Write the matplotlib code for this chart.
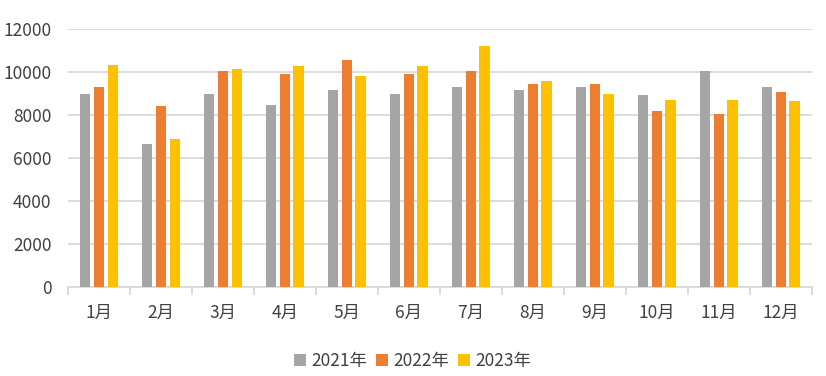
import numpy as np
import matplotlib
matplotlib.use("Agg")
import matplotlib.pyplot as plt

plt.rcParams['font.family'] = ['Noto Sans CJK SC', 'DejaVu Sans']

months = ["1月", "2月", "3月", "4月", "5月", "6月", "7月", "8月", "9月", "10月", "11月", "12月"]
series_names = ["2021年", "2022年", "2023年"]
v2021 = [9000, 6650, 9000, 8480, 9150, 9000, 9290, 9150, 9290, 8930, 10040, 9290]
v2022 = [9290, 8410, 10040, 9900, 10560, 9900, 10040, 9460, 9460, 8190, 8040, 9090]
v2023 = [10340, 6880, 10130, 10270, 9820, 10270, 11230, 9600, 9000, 8720, 8720, 8640]
colors = ["#a5a5a5", "#ed7d31", "#ffc000"]

fig = plt.figure(figsize=(8.26, 3.76), dpi=100)
ax = fig.add_axes([0.0823, 0.236, 0.9007, 0.687])

x = np.arange(len(months))
w = 0.175
step = 0.225
for i, (vals, name) in enumerate(zip([v2021, v2022, v2023], series_names)):
    ax.bar(x + (i - 1) * step, vals, width=w, color=colors[i], label=name, zorder=3)

ax.set_xlim(-0.5, len(months) - 0.5)
ax.set_ylim(0, 12000)
ax.set_yticks(np.arange(0, 12001, 2000))
ax.grid(axis='y', color='#d9d9d9', linewidth=1.3, zorder=0)
for s in ['top', 'right', 'left']:
    ax.spines[s].set_visible(False)
ax.spines['bottom'].set_color('#d9d9d9')
ax.spines['bottom'].set_linewidth(1.3)

ax.set_xticks(x)
ax.set_xticklabels(months)
ax.set_xticks(np.arange(-0.5, len(months)), minor=True)
ax.tick_params(axis='x', which='major', length=0, pad=12, labelsize=12.5, labelcolor='#404040')
ax.tick_params(axis='x', which='minor', length=6, width=1.3, color='#d9d9d9')
ax.tick_params(axis='y', length=0, pad=12, labelsize=12.5, labelcolor='#404040')

ax.legend(loc='upper center', bbox_to_anchor=(0.463, -0.19), ncol=3, frameon=False,
          fontsize=12.5, labelcolor='#404040', handlelength=0.7, handleheight=0.7,
          handletextpad=0.3, columnspacing=0.5)

fig.savefig("out.png", dpi=100)
